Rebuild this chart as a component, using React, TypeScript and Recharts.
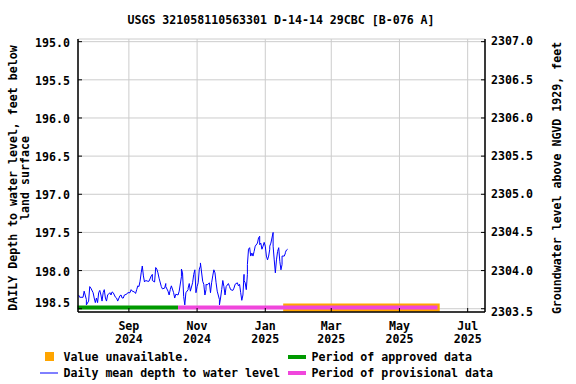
import React from 'react';
import { ComposedChart, Line, XAxis, YAxis, CartesianGrid, ReferenceArea, ReferenceLine } from 'recharts';

// days counted from 2024-07-18
const START = Date.UTC(2024, 6, 18);
const DAY = 86400000;
const dayOf = (y: number, m: number, d: number) => (Date.UTC(y, m - 1, d) - START) / DAY;

const readDays = [
  0, 1, 4, 5, 7, 7, 9, 10, 11, 13, 13, 14, 15, 16, 17, 18, 19, 20, 21, 22,
  23, 24, 25, 26, 28, 29, 30, 31, 33, 34, 35, 37, 38, 39, 40, 41, 43, 44, 46, 47,
  48, 50, 51, 52, 53, 54, 55, 56, 57, 58, 59, 60, 62, 63, 65, 66, 66, 68, 69, 70,
  71, 72, 74, 75, 77, 78, 78, 80, 81, 82, 83, 85, 86, 87, 89, 90, 92, 92, 93, 94,
  95, 96, 98, 98, 99, 100, 102, 103, 104, 105, 106, 107, 108, 109, 109, 111, 112, 113, 114, 114,
  115, 117, 118, 119, 120, 121, 122, 123, 124, 126, 126, 127, 128, 129, 130, 131, 132, 134, 135, 136,
  138, 139, 140, 142, 143, 144, 145, 146, 147, 148, 148, 149, 150, 151, 151, 152, 153, 154, 155, 156,
  157, 158, 160, 161, 162, 162, 163, 164, 165, 166, 167, 168, 169, 170, 171, 171, 172, 174, 174, 175,
  176, 177, 178, 179, 180, 181, 182, 182, 184, 185, 185, 186, 187,
];

const depthFt = [
  198.32, 198.35, 198.35, 198.27, 198.38, 198.45, 198.40, 198.21, 198.23, 198.29,
  198.29, 198.36, 198.42, 198.36, 198.42, 198.29, 198.26, 198.32, 198.40, 198.29,
  198.25, 198.36, 198.40, 198.32, 198.29, 198.32, 198.28, 198.29, 198.35, 198.36,
  198.40, 198.33, 198.32, 198.36, 198.36, 198.32, 198.31, 198.29, 198.29, 198.25,
  198.27, 198.28, 198.30, 198.25, 198.20, 198.21, 198.14, 198.03, 197.94, 198.07,
  198.15, 198.13, 198.14, 198.14, 198.07, 198.05, 198.13, 198.15, 197.96, 197.98,
  198.03, 198.10, 198.21, 198.24, 198.23, 198.17, 198.21, 198.27, 198.32, 198.25,
  198.20, 198.29, 198.36, 198.31, 198.32, 198.27, 198.08, 197.98, 198.03, 198.34,
  198.45, 198.29, 198.25, 198.23, 198.17, 198.27, 198.16, 198.05, 197.99, 198.29,
  198.21, 198.16, 197.98, 197.94, 197.90, 198.14, 198.18, 198.32, 198.25, 198.18,
  198.19, 198.16, 198.29, 198.16, 198.07, 197.99, 198.03, 198.16, 198.27, 198.38,
  198.45, 198.36, 198.25, 198.13, 198.21, 198.32, 198.21, 198.17, 198.21, 198.25,
  198.26, 198.23, 198.18, 198.16, 198.20, 198.18, 198.29, 198.39, 198.32, 198.05,
  198.13, 198.16, 198.25, 198.05, 197.92, 197.72, 197.70, 197.81, 197.77, 197.81,
  197.75, 197.68, 197.64, 197.57, 197.55, 197.66, 197.64, 197.72, 197.68, 197.63,
  197.68, 197.81, 197.86, 197.81, 197.72, 197.68, 197.64, 197.50, 197.68, 197.86,
  198.03, 197.86, 197.75, 197.70, 197.88, 197.99, 197.92, 197.81, 197.81, 197.77,
  197.76, 197.73, 197.72,
];

const tickDates: [number, number, number][] = [
  [2024, 9, 1], [2024, 11, 1], [2025, 1, 1], [2025, 3, 1], [2025, 5, 1], [2025, 7, 1],
];
const monthNames = ['Jan', 'Feb', 'Mar', 'Apr', 'May', 'Jun', 'Jul', 'Aug', 'Sep', 'Oct', 'Nov', 'Dec'];
const depthTicks = [195.0, 195.5, 196.0, 196.5, 197.0, 197.5, 198.0, 198.5];
const elevTicks = [2303.5, 2304.0, 2304.5, 2305.0, 2305.5, 2306.0, 2306.5, 2307.0];
const DATUM = 2502.0; // elevation = DATUM - depth

const approvedPeriod = [dayOf(2024, 7, 17), dayOf(2024, 10, 15)];
const provisionalPeriod = [dayOf(2024, 10, 15), dayOf(2025, 6, 4)];
const unavailablePeriod = [dayOf(2025, 1, 17), dayOf(2025, 6, 6)];

const series = readDays.map((d, i) => ({ day: d, depth: depthFt[i] }));
const tickDays = tickDates.map(([y, m, d]) => dayOf(y, m, d));
const depthDomain = [194.965, 198.543];

const FONT = '"DejaVu Sans Mono", monospace';
const BLUE = '#0000ff';
const GREEN = '#009900';
const PINK = '#f046dc';
const ORANGE = '#ffa500';
const BAR_Y = 198.483;

const textStyle = { fontFamily: FONT, fontSize: 11.6, fontWeight: 700, fill: '#000' };

const DateTick = (props: any) => {
  const { x, y, payload } = props;
  const dt = new Date(START + payload.value * DAY);
  return (
    <g>
      <line x1={x} x2={x} y1={y - 4} y2={y} stroke="#000" />
      <text x={x} y={y + 14} textAnchor="middle" dominantBaseline="central" style={textStyle}>
        {monthNames[dt.getUTCMonth()]}
      </text>
      <text x={x} y={y + 27} textAnchor="middle" dominantBaseline="central" style={textStyle}>
        {dt.getUTCFullYear()}
      </text>
    </g>
  );
};

const DepthTick = (props: any) => {
  const { x, y, payload } = props;
  const dy = payload.value === 198.5 ? -6 : 1;
  return (
    <g>
      <line x1={x} x2={x + 4} y1={y} y2={y} stroke="#000" />
      <text x={x - 8} y={y + dy} textAnchor="end" dominantBaseline="central" style={textStyle}>
        {payload.value.toFixed(1)}
      </text>
    </g>
  );
};

const ElevTick = (props: any) => {
  const { x, y, payload } = props;
  const dy = payload.value === 2303.5 ? 3 : payload.value === 2307.0 ? -1 : 0;
  return (
    <g>
      <line x1={x - 4} x2={x} y1={y} y2={y} stroke="#000" />
      <text x={x + 6} y={y + dy} textAnchor="start" dominantBaseline="central" style={textStyle}>
        {payload.value.toFixed(1)}
      </text>
    </g>
  );
};

const App = () => {
  return (
    <div style={{ position: 'absolute', left: 0, top: 0, width: 576, height: 384, background: '#fff' }}>
      <ComposedChart width={576} height={384} data={series} margin={{ top: 39, right: 0, bottom: 0, left: 0 }}>
        <CartesianGrid stroke="#cccccc" yAxisId="left" />
        <XAxis
          dataKey="day"
          type="number"
          domain={[-0.5, 363.5]}
          ticks={tickDays}
          allowDataOverflow
          height={72}
          tickSize={0}
          tickMargin={0}
          tickLine={false}
          tick={<DateTick />}
          axisLine={{ stroke: '#000', strokeWidth: 1.5 }}
        />
        <XAxis
          xAxisId="top"
          orientation="top"
          dataKey="day"
          type="number"
          domain={[-0.5, 363.5]}
          height={0}
          tick={false}
          tickLine={false}
          axisLine={{ stroke: '#000', strokeWidth: 1.5 }}
        />
        <YAxis
          yAxisId="left"
          reversed
          domain={depthDomain}
          ticks={depthTicks}
          allowDataOverflow
          width={78}
          tickSize={0}
          tickMargin={0}
          tickLine={false}
          tick={<DepthTick />}
          axisLine={{ stroke: '#000', strokeWidth: 1.5 }}
        />
        <YAxis
          yAxisId="right"
          orientation="right"
          domain={[DATUM - depthDomain[1], DATUM - depthDomain[0]]}
          ticks={elevTicks}
          allowDataOverflow
          width={91}
          tickSize={0}
          tickMargin={0}
          tickLine={false}
          tick={<ElevTick />}
          axisLine={{ stroke: '#000', strokeWidth: 1.5 }}
        />
        <ReferenceArea
          yAxisId="left"
          x1={unavailablePeriod[0]}
          x2={unavailablePeriod[1]}
          y1={198.43}
          y2={198.54}
          fill={ORANGE}
          fillOpacity={1}
          stroke="none"
          ifOverflow="visible"
        />
        <ReferenceLine
          yAxisId="left"
          segment={[{ x: approvedPeriod[0], y: BAR_Y }, { x: approvedPeriod[1], y: BAR_Y }]}
          stroke={GREEN}
          strokeWidth={4}
          ifOverflow="visible"
        />
        <ReferenceLine
          yAxisId="left"
          segment={[{ x: provisionalPeriod[0], y: BAR_Y }, { x: provisionalPeriod[1], y: BAR_Y }]}
          stroke={PINK}
          strokeWidth={4}
          ifOverflow="visible"
        />
        <Line
          yAxisId="left"
          type="linear"
          dataKey="depth"
          stroke={BLUE}
          strokeWidth={1}
          dot={false}
          activeDot={false}
          isAnimationActive={false}
        />
      </ComposedChart>
      <svg width={576} height={384} style={{ position: 'absolute', left: 0, top: 0, pointerEvents: 'none' }}>
        <text x={281} y={20} textAnchor="middle" dominantBaseline="central" style={textStyle}>
          USGS 321058110563301 D-14-14 29CBC [B-076 A]
        </text>
        <text transform="translate(13,178) rotate(-90)" textAnchor="middle" dominantBaseline="central" style={textStyle}>
          DAILY Depth to water level, feet below
        </text>
        <text transform="translate(25,178) rotate(-90)" textAnchor="middle" dominantBaseline="central" style={textStyle}>
          land surface
        </text>
        <text transform="translate(557,178) rotate(-90)" textAnchor="middle" dominantBaseline="central" style={textStyle}>
          Groundwater level above NGVD 1929, feet
        </text>
        <rect x={45} y={352} width={9} height={9} fill={ORANGE} />
        <text x={63.5} y={357} dominantBaseline="central" style={textStyle}>Value unavailable.</text>
        <line x1={40} x2={58} y1={373} y2={373} stroke={BLUE} strokeWidth={1} />
        <text x={63.5} y={373} dominantBaseline="central" style={textStyle}>Daily mean depth to water level</text>
        <line x1={288} x2={306} y1={357} y2={357} stroke={GREEN} strokeWidth={4} />
        <text x={311.5} y={357} dominantBaseline="central" style={textStyle}>Period of approved data</text>
        <line x1={288} x2={306} y1={373} y2={373} stroke={PINK} strokeWidth={4} />
        <text x={311.5} y={373} dominantBaseline="central" style={textStyle}>Period of provisional data</text>
      </svg>
    </div>
  );
};

export default App;
